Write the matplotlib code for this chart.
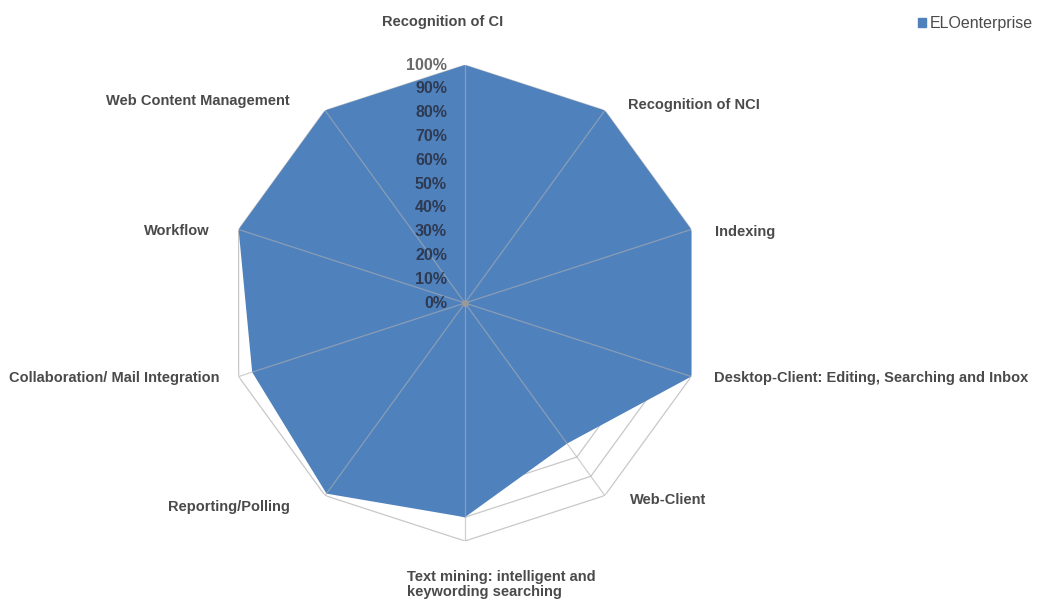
import numpy as np
import matplotlib.pyplot as plt

plt.rcParams['font.family'] = ['Liberation Sans', 'DejaVu Sans']

# categories (clockwise from the top) and ELOenterprise scores
categories = ['Recognition of CI', 'Recognition of NCI', 'Indexing',
              'Desktop-Client: Editing, Searching and Inbox', 'Web-Client',
              'Text mining: intelligent and\nkeywording searching', 'Reporting/Polling',
              'Collaboration/ Mail Integration', 'Workflow', 'Web Content Management']
values = [1.00, 1.00, 1.00, 1.00, 0.73, 0.90, 0.99, 0.94, 1.00, 1.00]
levels = [0.0, 0.1, 0.2, 0.3, 0.4, 0.5, 0.6, 0.7, 0.8, 0.9, 1.0]
level_labels = ['0%', '10%', '20%', '30%', '40%', '50%', '60%', '70%', '80%', '90%', '100%']

n = len(categories)
angles = np.linspace(0, 2 * np.pi, n, endpoint=False)
closed = np.append(angles, angles[0])

fig = plt.figure(figsize=(10.44, 6.01), dpi=100)
ax = fig.add_axes([0.2174, 0.0998, 0.4559, 0.792], projection='polar')
ax.set_theta_offset(np.pi / 2)
ax.set_theta_direction(-1)
ax.set_ylim(0, 1)
ax.grid(False)
ax.spines['polar'].set_visible(False)
ax.set_xticks([])
ax.set_yticks([])

# polygon rings
for lv in levels[1:]:
    ax.plot(closed, [lv] * (n + 1), color='#c8c8c8', lw=0.9, zorder=1)

# series
vals = np.append(values, values[0])
ax.fill(closed, vals, color='#4f81bd', zorder=2, lw=0)

# spokes
for a in angles:
    ax.plot([a, a], [0, 1], color='#b0b0b0', lw=0.9, alpha=0.6, zorder=3)
ax.plot([0], [0], 'o', color='#9a9a9a', ms=4, zorder=4)

# value labels along the top spoke
for lv, lab in zip(levels, level_labels):
    ax.annotate(lab, xy=(0, lv), xytext=(-18, 0), textcoords='offset pixels',
                ha='right', va='center', fontsize=11.5, fontweight='bold',
                color='#2e3a52' if lv < 1 else '#6a6a6a', zorder=5)

# category labels (offsets in pixels from the outer vertex)
label_pos = [
    (0, (-22, 43), 'center', 'center'),
    (1, (23, 5), 'left', 'center'),
    (2, (24, -3), 'left', 'center'),
    (3, (23, -1), 'left', 'center'),
    (4, (25, -4), 'left', 'center'),
    (5, (-58, -29), 'left', 'top'),
    (6, (-35, -11), 'right', 'center'),
    (7, (-19, -1), 'right', 'center'),
    (8, (-29, -2), 'right', 'center'),
    (9, (-35, 9), 'right', 'center'),
]
for i, off, ha, va in label_pos:
    ax.annotate(categories[i], xy=(angles[i], 1.0), xytext=off, textcoords='offset pixels',
                ha=ha, va=va, fontsize=10.5, fontweight='bold', color='#4a4a4a',
                linespacing=1.05, annotation_clip=False)

# legend
fig.legend(handles=[plt.Rectangle((0, 0), 1, 1, color='#4f81bd')], labels=['ELOenterprise'],
           loc='upper right', bbox_to_anchor=(1.003, 0.997), frameon=False,
           fontsize=11.5, handlelength=0.45, handleheight=0.45, handletextpad=0.25,
           labelcolor='#4a4a4a')

fig.savefig('out.png', dpi=100)
